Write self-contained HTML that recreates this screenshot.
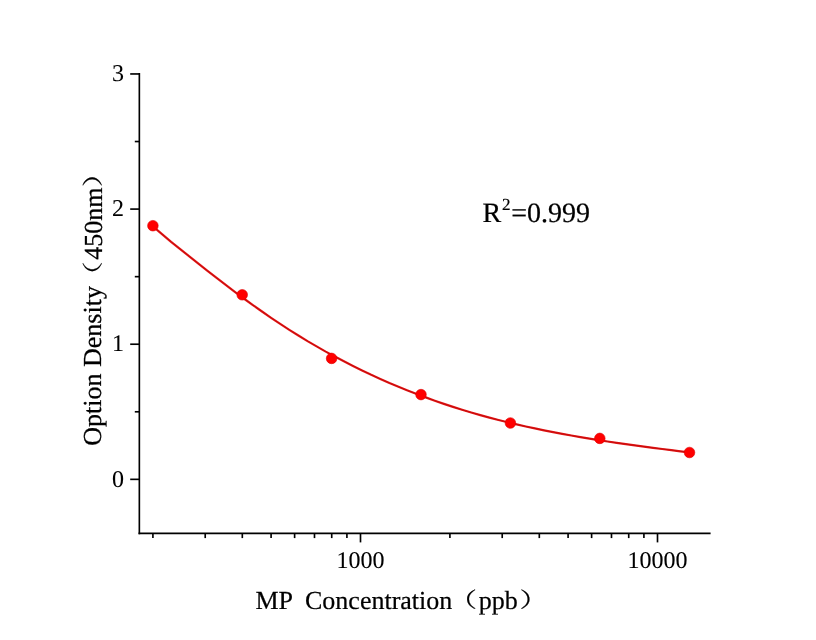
<!DOCTYPE html>
<html><head><meta charset="utf-8"><title>MP Concentration standard curve</title>
<style>
html,body{margin:0;padding:0;background:#fff;}
body{width:816px;height:640px;overflow:hidden;}
svg{display:block;}
text{text-rendering:geometricPrecision;font-family:"Liberation Serif","Noto Serif CJK SC",serif;fill:#000;stroke:#000;stroke-width:0.22px;}
.t{font-size:24px;stroke-width:0.06px;}
.a{font-size:26px;}
.p{stroke-width:0.2px;}
</style></head><body>
<svg width="816" height="640" viewBox="0 0 816 640">
<rect width="816" height="640" fill="#fff"/>
<g stroke="#000" stroke-width="1.65" fill="none" stroke-linecap="butt">
<path d="M139.35,73.08 V534.18"/>
<path d="M138.53,533.35 H710.6"/>
<path d="M130.2,479.35 H139.35"/>
<path d="M130.2,344.22 H139.35"/>
<path d="M130.2,209.09 H139.35"/>
<path d="M130.2,73.96 H139.35"/>
<path d="M134.8,411.79 H139.35"/>
<path d="M134.8,276.66 H139.35"/>
<path d="M134.8,141.53 H139.35"/>
<path d="M360.50,533.35 V542.4"/>
<path d="M657.50,533.35 V542.4"/>
<path d="M152.91,533.35 V538.1"/>
<path d="M205.21,533.35 V538.1"/>
<path d="M242.31,533.35 V538.1"/>
<path d="M271.09,533.35 V538.1"/>
<path d="M294.61,533.35 V538.1"/>
<path d="M314.49,533.35 V538.1"/>
<path d="M331.72,533.35 V538.1"/>
<path d="M346.91,533.35 V538.1"/>
<path d="M449.91,533.35 V538.1"/>
<path d="M502.21,533.35 V538.1"/>
<path d="M539.31,533.35 V538.1"/>
<path d="M568.09,533.35 V538.1"/>
<path d="M591.61,533.35 V538.1"/>
<path d="M611.49,533.35 V538.1"/>
<path d="M628.72,533.35 V538.1"/>
<path d="M643.91,533.35 V538.1"/>
</g>
<text class="t" x="124" y="486.6" text-anchor="end">0</text>
<text class="t" x="124" y="351.4" text-anchor="end">1</text>
<text class="t" x="124" y="216.3" text-anchor="end">2</text>
<text class="t" x="124" y="81.2" text-anchor="end">3</text>
<text class="t" x="360.5" y="567.8" text-anchor="middle">1000</text>
<text class="t" x="657.5" y="567.8" text-anchor="middle">10000</text>
<text class="a" x="255.4" y="608.6" xml:space="preserve" style="white-space:pre">MP  Concentration</text>
<text class="a p" transform="translate(448.45,607.2) scale(1.1,0.79)">（</text>
<text class="a" x="478.7" y="608.6">ppb</text>
<text class="a p" transform="translate(519.55,607.2) scale(1.1,0.79)">）</text>
<g transform="translate(101.4,445.7) rotate(-90)">
<text class="a" x="0" y="0">Option Density</text>
<text class="a p" transform="translate(155.95,-1.05) scale(1.1,0.79)">（</text>
<text class="a" x="186.0" y="0.5">450nm</text>
<text class="a p" transform="translate(258.55,-1.05) scale(1.1,0.79)">）</text>
</g>
<text x="482.4" y="221.5" font-size="28">R</text>
<text x="501.9" y="210" font-size="17">2</text>
<text x="511.2" y="221.5" font-size="28">=0.999</text>
<path d="M152.9,226.3 L162.0,234.1 L171.1,241.8 L180.2,249.1 L189.3,256.4 L198.4,263.7 L207.5,270.8 L216.6,277.9 L225.7,284.9 L234.8,291.8 L243.8,298.5 L252.9,305.1 L262.0,311.5 L271.1,317.8 L280.2,323.9 L289.3,329.8 L298.4,335.5 L307.5,341.1 L316.6,346.4 L325.7,351.6 L334.8,356.5 L343.9,361.3 L353.0,365.9 L362.1,370.4 L371.2,374.8 L380.3,378.9 L389.4,383.0 L398.5,386.8 L407.6,390.5 L416.7,394.0 L425.7,397.4 L434.8,400.7 L443.9,403.9 L453.0,406.9 L462.1,409.8 L471.2,412.5 L480.3,415.1 L489.4,417.6 L498.5,420.0 L507.6,422.2 L516.7,424.4 L525.8,426.5 L534.9,428.4 L544.0,430.3 L553.1,432.1 L562.2,433.8 L571.3,435.5 L580.4,437.1 L589.5,438.6 L598.6,440.1 L607.6,441.5 L616.7,442.8 L625.8,444.1 L634.9,445.4 L644.0,446.6 L653.1,447.8 L662.2,449.0 L671.3,450.1 L680.4,451.3 L689.5,452.4" fill="none" stroke="#e61818" stroke-width="2.2" stroke-linejoin="round"/>
<path d="M152.9,226.3 L162.0,234.1 L171.1,241.8 L180.2,249.1 L189.3,256.4 L198.4,263.7 L207.5,270.8 L216.6,277.9 L225.7,284.9 L234.8,291.8 L243.8,298.5 L252.9,305.1 L262.0,311.5 L271.1,317.8 L280.2,323.9 L289.3,329.8 L298.4,335.5 L307.5,341.1 L316.6,346.4 L325.7,351.6 L334.8,356.5 L343.9,361.3 L353.0,365.9 L362.1,370.4 L371.2,374.8 L380.3,378.9 L389.4,383.0 L398.5,386.8 L407.6,390.5 L416.7,394.0 L425.7,397.4 L434.8,400.7 L443.9,403.9 L453.0,406.9 L462.1,409.8 L471.2,412.5 L480.3,415.1 L489.4,417.6 L498.5,420.0 L507.6,422.2 L516.7,424.4 L525.8,426.5 L534.9,428.4 L544.0,430.3 L553.1,432.1 L562.2,433.8 L571.3,435.5 L580.4,437.1 L589.5,438.6 L598.6,440.1 L607.6,441.5 L616.7,442.8 L625.8,444.1 L634.9,445.4 L644.0,446.6 L653.1,447.8 L662.2,449.0 L671.3,450.1 L680.4,451.3 L689.5,452.4" fill="none" stroke="#bc0808" stroke-width="0.8" stroke-linejoin="round"/>
<circle cx="152.9" cy="225.7" r="5.3" fill="#ff0000" stroke="#de0000" stroke-width="0.6"/>
<circle cx="242.2" cy="294.8" r="5.3" fill="#ff0000" stroke="#de0000" stroke-width="0.6"/>
<circle cx="331.6" cy="358.4" r="5.3" fill="#ff0000" stroke="#de0000" stroke-width="0.6"/>
<circle cx="421" cy="394.6" r="5.3" fill="#ff0000" stroke="#de0000" stroke-width="0.6"/>
<circle cx="510.4" cy="423" r="5.3" fill="#ff0000" stroke="#de0000" stroke-width="0.6"/>
<circle cx="599.8" cy="438.4" r="5.3" fill="#ff0000" stroke="#de0000" stroke-width="0.6"/>
<circle cx="689.5" cy="452.5" r="5.3" fill="#ff0000" stroke="#de0000" stroke-width="0.6"/>
</svg></body></html>
